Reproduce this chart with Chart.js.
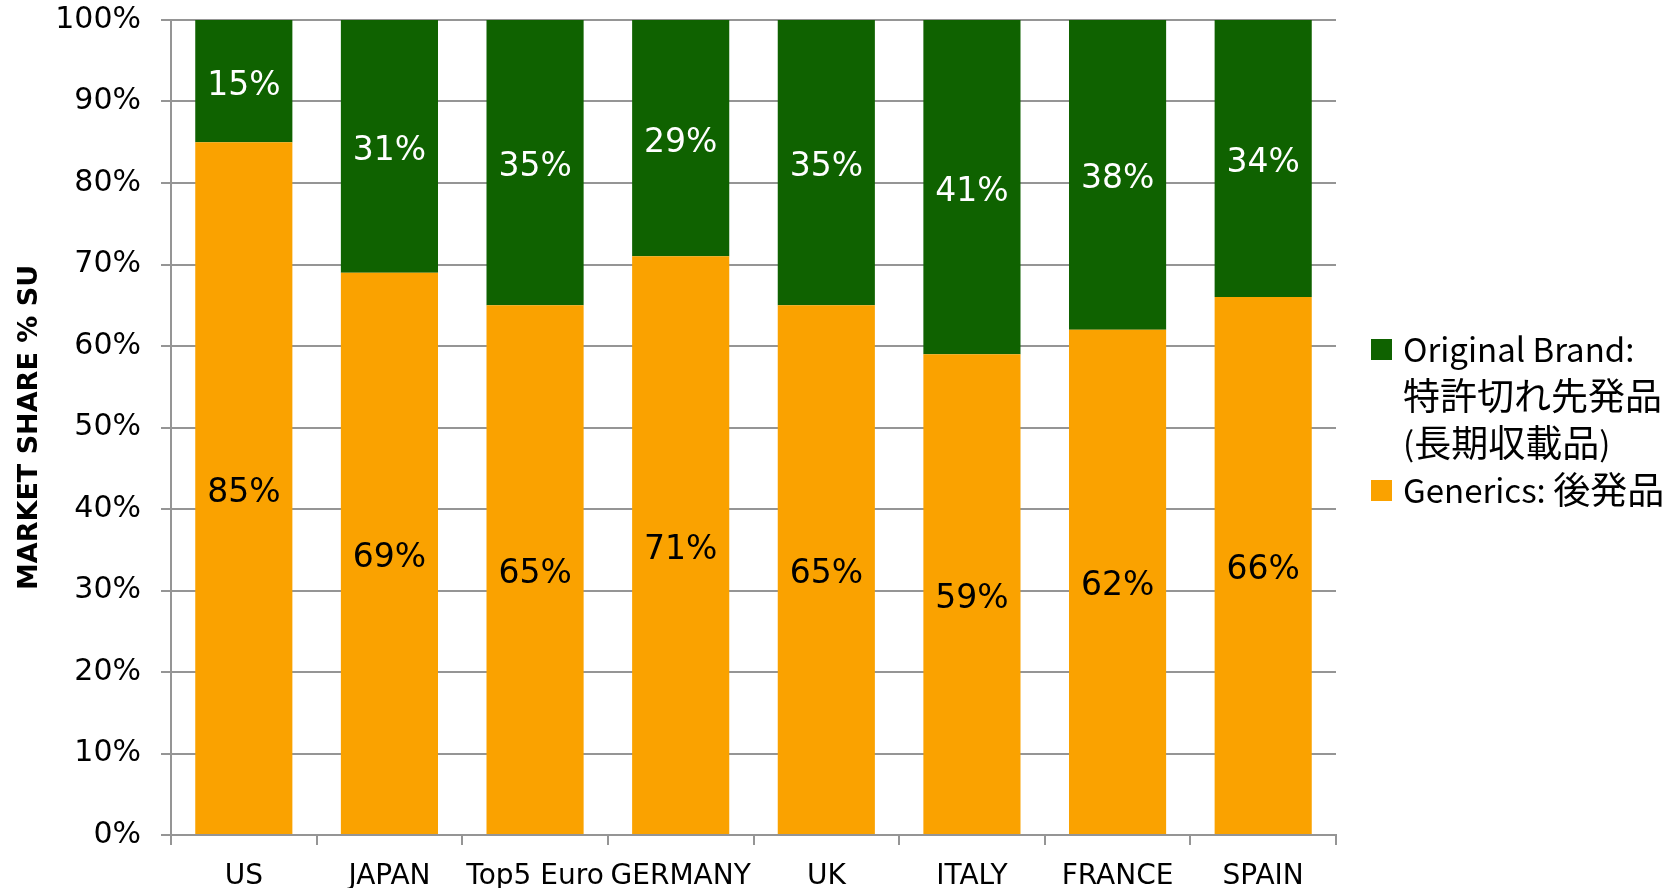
<!DOCTYPE html>
<html>
<head>
<meta charset="utf-8">
<script src="https://cdn.jsdelivr.net/npm/chart.js@4/dist/chart.umd.min.js"></script>
<style>
    html, body { margin: 0; padding: 0; background: #fff; }
</style>
</head>
<body>
<canvas id="share-chart" width="1678" height="888"></canvas>
<script>
// Données du graphique
const categories = ['US', 'JAPAN', 'Top5 Euro', 'GERMANY', 'UK', 'ITALY', 'FRANCE', 'SPAIN'];
const genericsShare = [85, 69, 65, 71, 65, 59, 62, 66];
const brandShare = [15, 31, 35, 29, 35, 41, 38, 34];
const brandLabel = ['Original Brand:', '特許切れ先発品', '(長期収載品)'];
const genericsLabel = ['Generics: 後発品'];

const GREEN = '#0f6200';
const ORANGE = '#faa200';
const GRID = '#959595';

const LATIN_FONT = '33px "Noto Sans CJK JP"';
const CJK_FONT = '37px "Noto Sans CJK JP"';

// Étiquettes de valeur au centre de chaque segment
const valueLabels = {
    id: 'valueLabels',
    afterDatasetsDraw(chart) {
        const ctx = chart.ctx;
        ctx.save();
        ctx.font = '33px "DejaVu Sans"';
        ctx.textAlign = 'center';
        ctx.textBaseline = 'middle';
        chart.data.datasets.forEach((ds, i) => {
            const meta = chart.getDatasetMeta(i);
            ctx.fillStyle = ds.labelColor;
            meta.data.forEach((bar, j) => {
                const { x, y, base } = bar.getProps(['x', 'y', 'base'], true);
                // léger décalage vers le bas comme dans l'original
                ctx.fillText(ds.data[j] + '%', x, (y + base) / 2 + 5);
            });
        });
        ctx.restore();
    }
};

/**
 * Écrit une ligne en alternant police latine / police CJK
 */
function drawMixedLine(ctx, text, x, y) {
    const runs = text.match(/[\u3000-\u9fff]+|[^\u3000-\u9fff]+/g) || [];
    runs.forEach(run => {
        ctx.font = /[\u3000-\u9fff]/.test(run) ? CJK_FONT : LATIN_FONT;
        ctx.fillText(run, x, y);
        x += ctx.measureText(run).width;
    });
}

// Légende à droite, avec des libellés sur plusieurs lignes
const sideLegend = {
    id: 'sideLegend',
    afterDraw(chart) {
        const ctx = chart.ctx;
        const area = chart.chartArea;
        const lineH = 47;
        const boxX = area.right + 35;
        const textX = area.right + 67;
        let y = 349;
        ctx.save();
        ctx.textBaseline = 'middle';
        ctx.textAlign = 'left';
        // ordre inverse : la marque d'abord
        [...chart.data.datasets].reverse().forEach(ds => {
            ctx.fillStyle = ds.backgroundColor;
            ctx.fillRect(boxX, y - 10, 21, 21);
            ctx.fillStyle = '#000';
            ds.legendLines.forEach(line => {
                drawMixedLine(ctx, line, textX, y);
                y += lineH;
            });
        });
        ctx.restore();
    }
};

const ctx = document.getElementById('share-chart').getContext('2d');
const shareChart = new Chart(ctx, {
    type: 'bar',
    data: {
        labels: categories,
        datasets: [{
            label: genericsLabel.join(' '),
            legendLines: genericsLabel,
            data: genericsShare,
            backgroundColor: ORANGE,
            labelColor: '#000',
            borderWidth: 0,
            barPercentage: 0.667,
            categoryPercentage: 1
        }, {
            label: brandLabel.join(' '),
            legendLines: brandLabel,
            data: brandShare,
            backgroundColor: GREEN,
            labelColor: '#fff',
            borderWidth: 0,
            barPercentage: 0.667,
            categoryPercentage: 1
        }]
    },
    options: {
        responsive: false,
        animation: false,
        layout: {
            padding: { top: 20, right: 342, left: 0, bottom: 0 }
        },
        plugins: {
            legend: { display: false },
            tooltip: { enabled: false }
        },
        scales: {
            x: {
                stacked: true,
                afterFit(scale) {
                    scale.height = 53;
                    scale.paddingLeft = 0;
                    scale.paddingRight = 0;
                },
                grid: {
                    offset: true,
                    drawOnChartArea: false,
                    color: GRID,
                    lineWidth: 2,
                    tickLength: 10
                },
                border: { color: GRID, width: 2 },
                ticks: {
                    color: '#000',
                    padding: 15,
                    maxRotation: 0,
                    autoSkip: false,
                    font: { family: 'DejaVu Sans', size: 28 }
                }
            },
            y: {
                stacked: true,
                min: 0,
                max: 100,
                afterFit(scale) {
                    scale.width = 171;
                    scale.paddingTop = 0;
                    scale.paddingBottom = 0;
                },
                grid: {
                    color: GRID,
                    lineWidth: 2,
                    tickLength: 10
                },
                border: { color: GRID, width: 2 },
                ticks: {
                    stepSize: 10,
                    color: '#000',
                    padding: 20,
                    font: { family: 'DejaVu Sans', size: 30 },
                    callback: v => v + '%'
                },
                title: {
                    display: true,
                    text: 'MARKET SHARE % SU',
                    color: '#000',
                    padding: { top: 14, bottom: 0 },
                    font: { family: 'DejaVu Sans', size: 27, weight: 'bold' }
                }
            }
        }
    },
    plugins: [valueLabels, sideLegend]
});
</script>
</body>
</html>
